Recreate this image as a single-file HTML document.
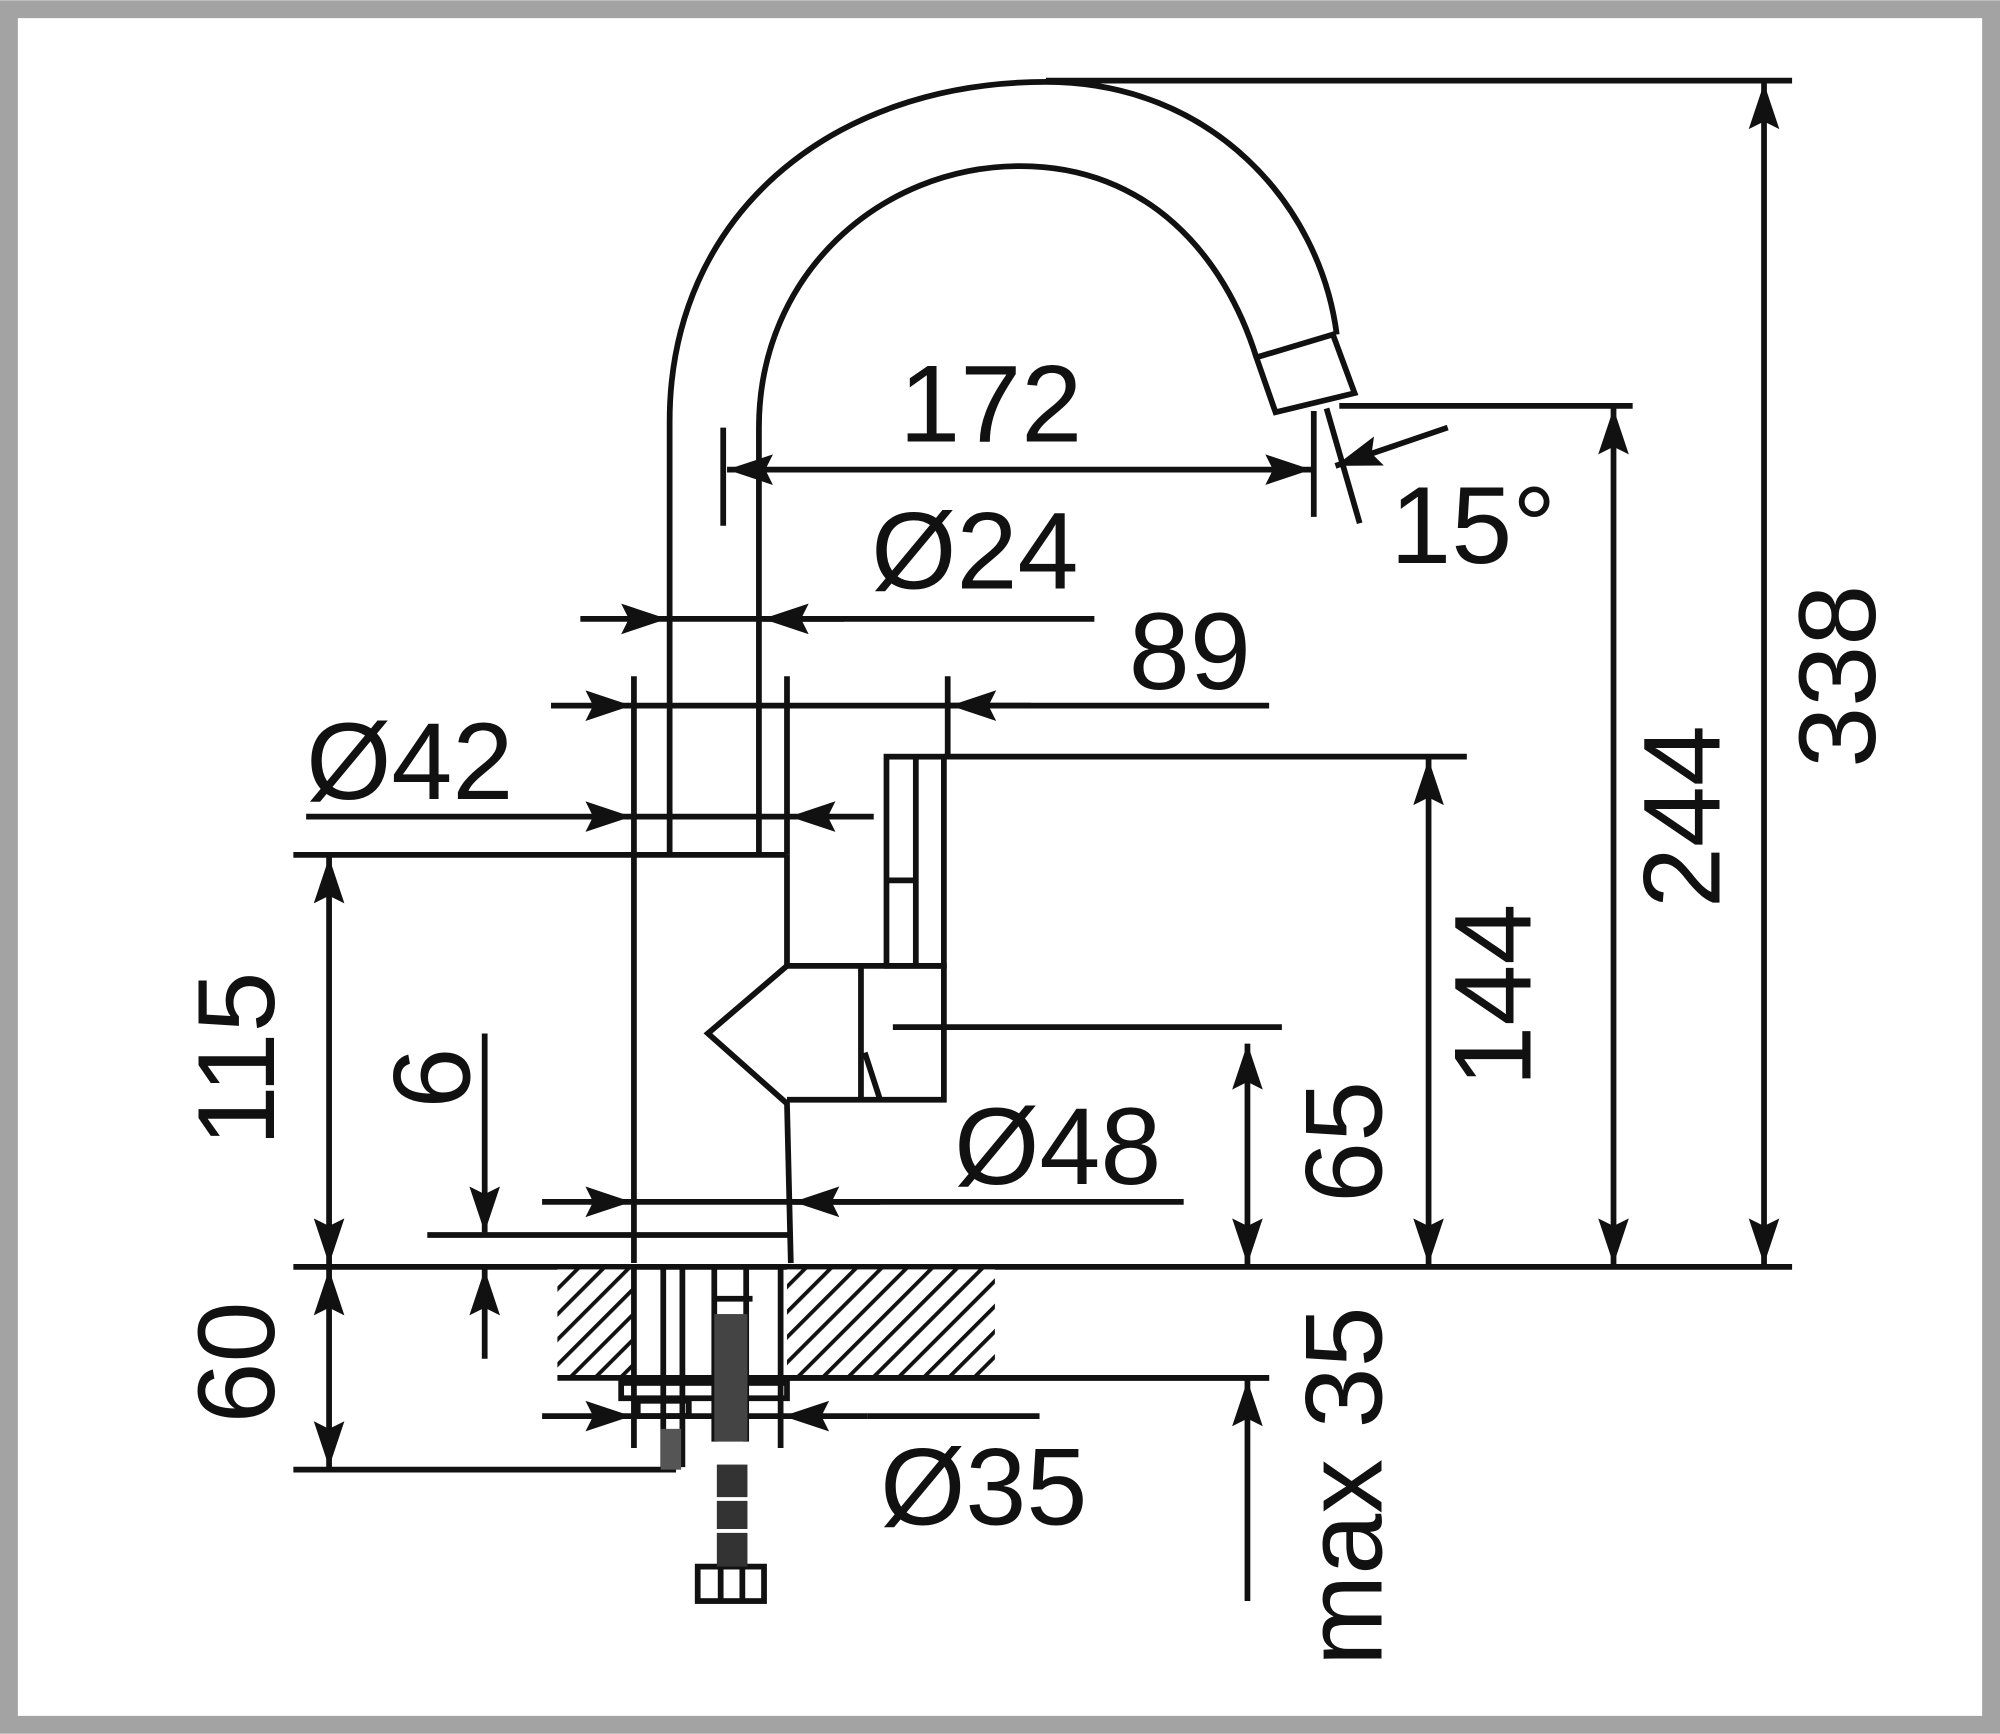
<!DOCTYPE html>
<html><head><meta charset="utf-8"><style>
html,body{margin:0;padding:0;background:#fff}
svg{display:block}
text{font-family:"Liberation Sans","DejaVu Sans",sans-serif;fill:#111}
</style></head><body>
<svg width="2000" height="1734" viewBox="0 0 1568 1359" xmlns="http://www.w3.org/2000/svg">
<defs>
<marker id="a" markerUnits="userSpaceOnUse" markerWidth="40" markerHeight="26" refX="36" refY="12" orient="auto-start-reverse"><path d="M0,0 L36,12 L0,24 L6,12 z" fill="#111"/></marker>
<pattern id="h" patternUnits="userSpaceOnUse" width="14" height="14" patternTransform="rotate(45)"><rect width="14" height="14" fill="#fff"/><line x1="0" y1="0" x2="0" y2="14" stroke="#111" stroke-width="6"/></pattern>
</defs>
<rect x="0" y="0" width="1568" height="1359" fill="#a3a3a3"/>
<rect x="14" y="14" width="1540" height="1331" fill="#fff"/>
<g stroke="#111" stroke-width="4.5" fill="none">
<path d="M525,670 L525,330 C525,170 650,64 820,64 C950,64 1035,160 1048,262"/>
<path d="M595,670 L595,335 C595,215 690,130 800,130 C900,130 960,200 985,280"/>
<path d="M985,280 L1045,262 L1062,308 L1000,323 Z"/>
<line x1="820" y1="63" x2="1405" y2="63"/>
<line x1="1383" y1="65" x2="1383" y2="991" marker-start="url(#a)" marker-end="url(#a)"/>
<line x1="230" y1="993" x2="1405" y2="993"/>
<line x1="1050" y1="318" x2="1280" y2="318"/>
<line x1="1265" y1="320" x2="1265" y2="991" marker-start="url(#a)" marker-end="url(#a)"/>
<line x1="740" y1="593" x2="1150" y2="593"/>
<line x1="1120" y1="595" x2="1120" y2="991" marker-start="url(#a)" marker-end="url(#a)"/>
<line x1="700" y1="805" x2="1005" y2="805"/>
<line x1="978" y1="818" x2="978" y2="991" marker-start="url(#a)" marker-end="url(#a)"/>
<line x1="615" y1="1080" x2="995" y2="1080"/>
<line x1="978" y1="1255" x2="978" y2="1082" marker-end="url(#a)"/>
<line x1="567" y1="335" x2="567" y2="412"/>
<line x1="1030" y1="322" x2="1030" y2="405"/>
<line x1="570" y1="368" x2="1028" y2="368" marker-start="url(#a)" marker-end="url(#a)"/>
<line x1="1040" y1="320" x2="1066" y2="410"/>
<line x1="1135" y1="335" x2="1047" y2="365" marker-end="url(#a)"/>
<line x1="455" y1="485" x2="523" y2="485" marker-end="url(#a)"/>
<line x1="525" y1="485" x2="858" y2="485"/>
<line x1="662" y1="485" x2="598" y2="485" marker-end="url(#a)"/>
<line x1="432" y1="553" x2="495" y2="553" marker-end="url(#a)"/>
<line x1="497" y1="553" x2="995" y2="553"/>
<line x1="808" y1="553" x2="745" y2="553" marker-end="url(#a)"/>
<line x1="497" y1="530" x2="497" y2="670"/>
<line x1="617" y1="530" x2="617" y2="670"/>
<line x1="743" y1="530" x2="743" y2="593"/>
<line x1="240" y1="640" x2="495" y2="640" marker-end="url(#a)"/>
<line x1="497" y1="640" x2="617" y2="640"/>
<line x1="685" y1="640" x2="619" y2="640" marker-end="url(#a)"/>
<line x1="230" y1="670" x2="617" y2="670"/>
<line x1="258" y1="672" x2="258" y2="991" marker-start="url(#a)" marker-end="url(#a)"/>
<line x1="497" y1="670" x2="497" y2="990"/>
<line x1="617" y1="670" x2="617" y2="757"/>
<rect x="695" y="593" width="45" height="164"/>
<line x1="718" y1="593" x2="718" y2="757"/>
<line x1="695" y1="690" x2="718" y2="690"/>
<path d="M617,757 L740,757 L740,862 L617,862"/>
<path d="M617,757 L555,810 L617,865 L620,990"/>
<line x1="675" y1="757" x2="675" y2="862"/>
<line x1="678" y1="825" x2="690" y2="862"/>
<line x1="425" y1="942" x2="495" y2="942" marker-end="url(#a)"/>
<line x1="497" y1="942" x2="928" y2="942"/>
<line x1="690" y1="942" x2="622" y2="942" marker-end="url(#a)"/>
<line x1="335" y1="968" x2="620" y2="968"/>
<line x1="380" y1="810" x2="380" y2="966" marker-end="url(#a)"/>
<line x1="380" y1="1065" x2="380" y2="995" marker-end="url(#a)"/>
<line x1="258" y1="995" x2="258" y2="1150" marker-start="url(#a)" marker-end="url(#a)"/>
<line x1="230" y1="1152" x2="530" y2="1152"/>
</g>
<rect x="437" y="995" width="58" height="85" fill="url(#h)"/>
<rect x="617" y="995" width="163" height="85" fill="url(#h)"/>
<g stroke="#111" stroke-width="4.5" fill="none">
<line x1="437" y1="1080" x2="995" y2="1080"/>
<line x1="497" y1="993" x2="497" y2="1135"/>
<line x1="612" y1="993" x2="612" y2="1135"/>
<line x1="520" y1="993" x2="520" y2="1150"/>
<line x1="535" y1="993" x2="535" y2="1150"/>
<rect x="487" y="1084" width="130" height="12"/>
<rect x="500" y="1098" width="40" height="12"/>
<line x1="425" y1="1110" x2="495" y2="1110" marker-end="url(#a)"/>
<line x1="497" y1="1110" x2="612" y2="1110"/>
<line x1="680" y1="1110" x2="614" y2="1110" marker-end="url(#a)"/>
<line x1="680" y1="1110" x2="815" y2="1110"/>
<line x1="560" y1="993" x2="560" y2="1130"/>
<line x1="585" y1="993" x2="585" y2="1130"/>
<line x1="558" y1="1018" x2="590" y2="1018"/>
<rect x="547" y="1228" width="52" height="27"/>
<line x1="565" y1="1228" x2="565" y2="1255"/>
<line x1="582" y1="1228" x2="582" y2="1255"/>
</g>
<rect x="560" y="1030" width="26" height="100" fill="#444"/>
<rect x="518" y="1120" width="16" height="32" fill="#555"/>
<rect x="562" y="1148" width="24" height="80" fill="#333"/>
<g stroke="#fff" stroke-width="3"><line x1="560" y1="1175" x2="588" y2="1175"/><line x1="560" y1="1200" x2="588" y2="1200"/></g>
<g font-size="86">
<text x="705" y="346">172</text>
<text x="1090" y="441">15°</text>
<text x="683" y="461">Ø24</text>
<text x="885" y="540">89</text>
<text x="240" y="626">Ø42</text>
<text x="748" y="928">Ø48</text>
<text x="690" y="1195">Ø35</text>
<text transform="translate(1470,530) rotate(-90)" text-anchor="middle">338</text>
<text transform="translate(1348,640) rotate(-90)" text-anchor="middle">244</text>
<text transform="translate(1200,780) rotate(-90)" text-anchor="middle">144</text>
<text transform="translate(1083,895) rotate(-90)" text-anchor="middle">65</text>
<text transform="translate(1083,1165) rotate(-90)" text-anchor="middle">max 35</text>
<text transform="translate(215,830) rotate(-90)" text-anchor="middle">115</text>
<text transform="translate(368,845) rotate(-90)" text-anchor="middle">6</text>
<text transform="translate(215,1068) rotate(-90)" text-anchor="middle">60</text>
</g>
</svg>
</body></html>
